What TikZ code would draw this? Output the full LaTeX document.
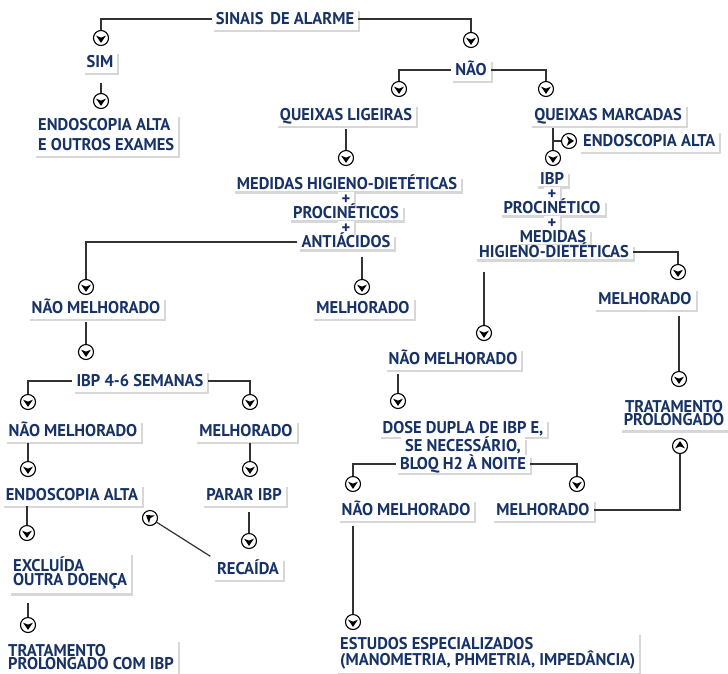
\documentclass[tikz,border=0pt]{standalone}
\usepackage{fontspec}
\setmainfont{PT Sans}[FakeStretch=0.97]
\usetikzlibrary{shadows,calc}
\definecolor{navy}{RGB}{22,50,102}
\definecolor{lgray}{RGB}{50,50,50}
\begin{document}
\begin{tikzpicture}[x=1pt,y=-1pt,
  tb/.style={fill=white, text=navy, inner xsep=4pt, inner ysep=4.5pt,
    text height=11.8pt, text depth=1pt,
    font=\fontsize{17}{16}\selectfont\bfseries,
    drop shadow={opacity=0.22, fill=black!70, shadow xshift=2pt, shadow yshift=-2.5pt}},
  pl/.style={tb, inner ysep=1pt},
  ml/.style={tb, text height=, text depth=, align=left},
  conn/.style={draw=lgray, line width=1.2pt},
  ac/.style={circle, draw=black, line width=1.1pt, fill=white, minimum size=15pt, inner sep=0pt},
  chev/.pic={\fill[black] (0,-4.9pt) -- (-4.9pt,2.3pt) -- (0,0.4pt) -- (4.9pt,2.3pt) -- cycle;}]
\fill[white] (0,0) rectangle (728,673);
\useasboundingbox (0,0) rectangle (728,673);

% top
\node[tb] (sinais) at (285,19) {SINAIS\hspace{0.4em}DE ALARME};
\node[ac] (c1) at (101,38) {};
\node[tb] (sim) at (100,62) {SIM};
\node[ac] (c2) at (101,101) {};
\node[ml, anchor=west, font=\fontsize{17}{20}\selectfont\bfseries] (endo1) at (34,135) {ENDOSCOPIA ALTA\\E OUTROS EXAMES};
\node[ac] (c3) at (471,40) {};
\node[tb] (nao) at (471,70) {NÃO};
\node[ac] (c4) at (399,89) {};
\node[ac] (c5) at (546,89) {};
\node[tb] (ql) at (346,115) {QUEIXAS LIGEIRAS};
\node[tb] (qm) at (608,115) {QUEIXAS MARCADAS};
\node[ac] (c6) at (346,158) {};
\node[pl] (m1) at (347,184) {MEDIDAS HIGIENO-DIETÉTICAS};
\node[pl] (m2) at (346,199) {+};
\node[pl] (m3) at (346,213) {PROCINÉTICOS};
\node[pl] (m4) at (346,228) {+};
\node[pl] (m5) at (346,242) {ANTIÁCIDOS};
\node[ac] (c7) at (553,158) {};
\node[ac] (c8) at (569,141) {};
\node[tb, anchor=west] (endo2) at (579,141) {ENDOSCOPIA ALTA};
\node[pl] (i1) at (552,179) {IBP};
\node[pl] (i2) at (552,194) {+};
\node[pl] (i3) at (552,208) {PROCINÉTICO};
\node[pl] (i4) at (552,223) {+};
\node[pl] (i5) at (553,237) {MEDIDAS};
\node[pl] (i6) at (554,252) {HIGIENO-DIETÉTICAS};

% right column
\node[ac] (c9) at (678,272) {};
\node[tb] (mel1) at (645,299) {MELHORADO};
\node[ac] (c10) at (679,379) {};
\node[ml, align=center, font=\fontsize{17}{13.5}\selectfont\bfseries] (trat1) at (674,413) {TRATAMENTO\\PROLONGADO};
\node[ac] (c11) at (680,446) {};

% middle right
\node[ac] (c12) at (484,333) {};
\node[tb] (nm1) at (453,359) {NÃO MELHORADO};
\node[ac] (c13) at (398,401) {};
\node[tb, inner ysep=2.5pt] (d1) at (463,428) {DOSE DUPLA DE IBP E,};
\node[tb, inner ysep=2.5pt] (d2) at (463,446) {SE NECESSÁRIO,};
\node[tb, inner ysep=2.5pt] (d3) at (463,464) {BLOQ H2 À NOITE};
\node[ac] (c14) at (353,484) {};
\node[ac] (c15) at (577,484) {};
\node[tb] (nm2) at (406,510) {NÃO MELHORADO};
\node[tb] (mel2) at (543,510) {MELHORADO};
\node[ac] (c16) at (353,622) {};
\node[ml, anchor=west, font=\fontsize{17}{13.5}\selectfont\bfseries] (est) at (336,653) {ESTUDOS ESPECIALIZADOS\\(MANOMETRIA, PHMETRIA, IMPEDÂNCIA)};

% left
\node[ac] (c17) at (86,287) {};
\node[tb] (nm3) at (96,308) {NÃO MELHORADO};
\node[ac] (c18) at (362,287) {};
\node[tb] (mel3) at (363,308) {MELHORADO};
\node[ac] (c19) at (86,352) {};
\node[tb] (ibp46) at (140,381) {IBP 4-6 SEMANAS};
\node[ac] (c20) at (28,402) {};
\node[ac] (c21) at (250,402) {};
\node[tb] (nm4) at (73,431) {NÃO MELHORADO};
\node[tb] (mel4) at (246,431) {MELHORADO};
\node[ac] (c22) at (28,469) {};
\node[ac] (c23) at (250,469) {};
\node[tb] (endo3) at (72,495) {ENDOSCOPIA ALTA};
\node[tb] (parar) at (244,495) {PARAR IBP};
\node[ac] (c24) at (27,533) {};
\node[ac] (c25) at (249,541) {};
\node[ac] (c26) at (150,518) {};
\node[tb] (recaida) at (248,569) {RECAÍDA};
\node[ml, anchor=west, font=\fontsize{17}{13.5}\selectfont\bfseries] (excl) at (9,573) {EXCLUÍDA\\OUTRA DOENÇA};
\node[ac] (c27) at (28,625) {};
\node[ml, anchor=west, font=\fontsize{17}{13.5}\selectfont\bfseries] (trat2) at (4,657) {TRATAMENTO\\PROLONGADO COM IBP};

% chevrons inside the circles
\foreach \c in {c1,c2,c3,c4,c5,c6,c7,c9,c10,c12,c13,c14,c15,c16,c17,c18,c19,c20,c21,c22,c23,c24,c25,c27}
  \pic at (\c) {chev};
\pic[rotate=90] at (c8) {chev};
\pic[rotate=180] at (c11) {chev};
\pic[rotate=-126] at (c26) {chev};

% connectors
\draw[conn] (sinais.west) -| (c1.north);
\draw[conn] (sinais.east) -| (c3.north);
\draw[conn, shorten <=10pt] (sim.south -| c2.north) -- (c2.north);
\draw[conn] (nao.west) -| (c4.north);
\draw[conn] (nao.east) -| (c5.north);
\draw[conn, shorten <=3pt] (ql.south -| c6.north) -- (c6.north);
\draw[conn, shorten <=2pt] (qm.south -| c7.north) -- (c7.north);
\draw[conn] (c7.north |- c8.west) -- (c8.west);
\draw[conn] (i6.east) -| (c9.north);
\draw[conn, shorten <=12pt] (i6.south -| c12.north) -- (c12.north);
\draw[conn, shorten <=6pt] (mel1.south -| c10.north) -- (c10.north);
\draw[conn] (mel2.east) -| (c11.south);
\draw[conn, shorten <=4pt] (nm1.south -| c13.north) -- (c13.north);
\draw[conn] (d3.west) -| (c14.north);
\draw[conn] (d3.east) -| (c15.north);
\draw[conn, shorten <=5pt] (nm2.south -| c16.north) -- (c16.north);
\draw[conn] (m5.west) -| (c17.north);
\draw[conn, shorten <=7pt] (m5.south -| c18.north) -- (c18.north);
\draw[conn, shorten <=3pt] (nm3.south -| c19.north) -- (c19.north);
\draw[conn] (ibp46.west) -| (c20.north);
\draw[conn] (ibp46.east) -| (c21.north);
\draw[conn, shorten <=1pt] (nm4.south -| c22.north) -- (c22.north);
\draw[conn, shorten <=1pt] (mel4.south -| c23.north) -- (c23.north);
\draw[conn] (endo3.south -| c24.north) -- (c24.north);
\draw[conn, shorten <=6pt] (parar.south -| c25.north) -- (c25.north);
\draw[conn, shorten <=3pt] (recaida.north west) -- (c26);
\draw[conn, shorten <=9pt] (excl.south -| c27.north) -- (c27.north);
\end{tikzpicture}
\end{document}
